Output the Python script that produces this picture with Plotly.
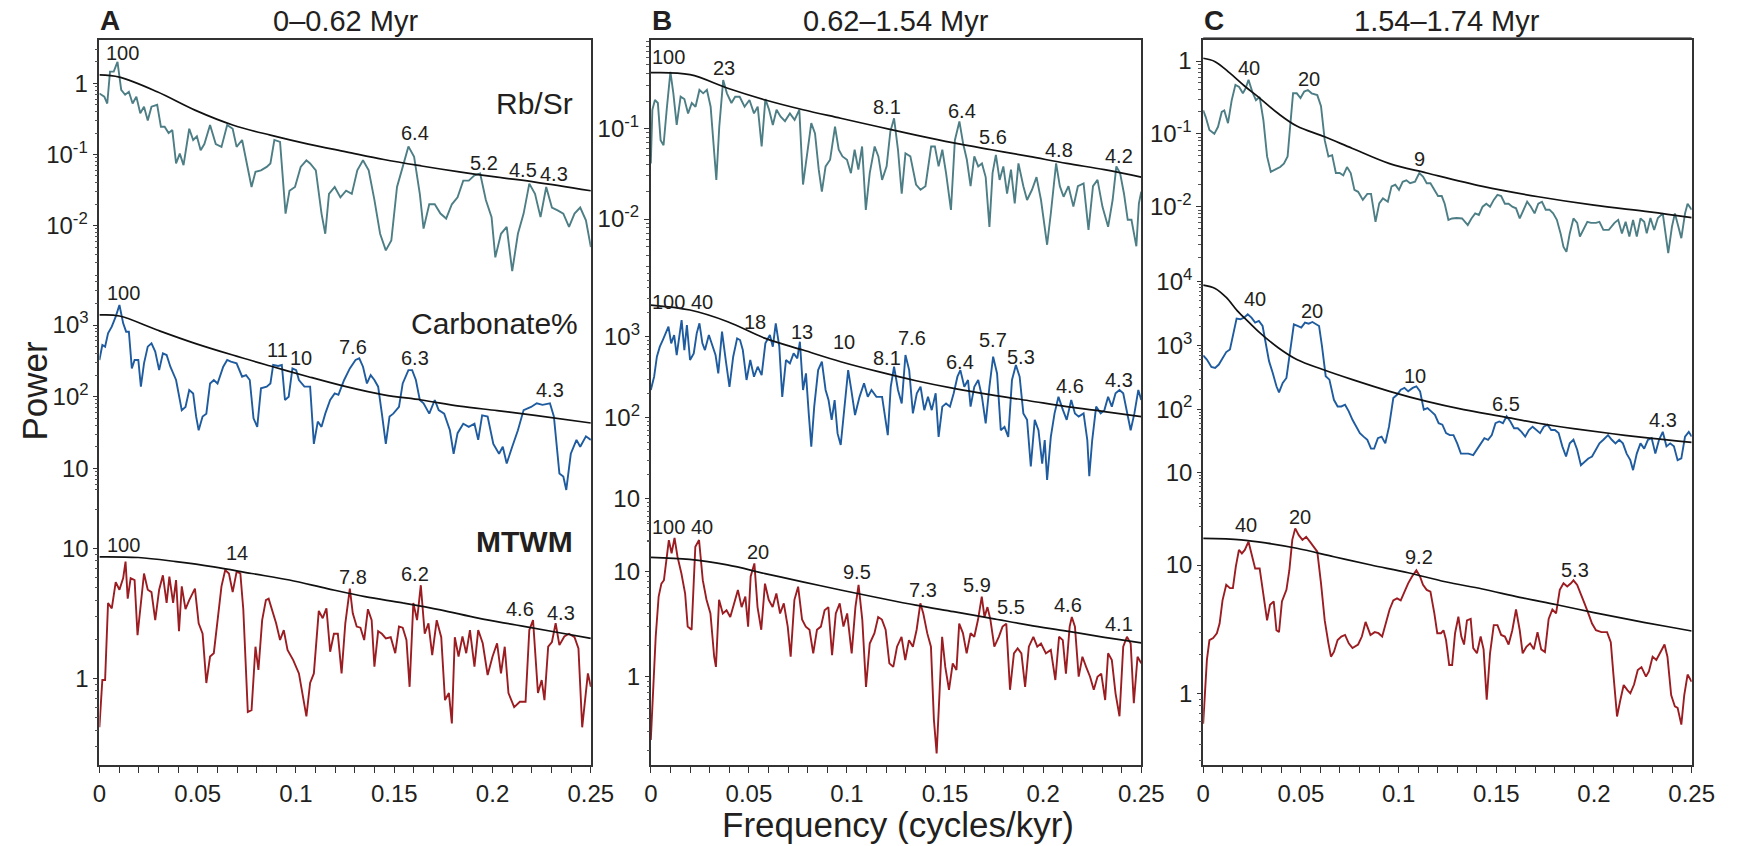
import math
import plotly.graph_objects as go

# ---------------- DATA (frequency in cycles/kyr, power) ----------------
# Panel A: 0-0.62 Myr
RBSR_A_F = [0, .0025, .004, .0054, .0073, .0092, .0111, .0131, .015, .0169, .0188, .0208, .0227, .0246, .0265, .0294, .0313, .0332, .0352, .0371,
            .039, .0409, .0428, .0457, .0477, .0496, .0515, .0534, .0563, .0592, .0621, .065, .0678, .0698, .0726, .0755, .0774, .0794, .0822, .0851,
            .087, .089, .0919, .0947, .0967, .0995, .1024, .1053, .1072, .1101, .113, .1149, .1168, .1197, .1226, .1255, .1284, .1312, .1341, .137,
            .1399, .1428, .1457, .1485, .1514, .1543, .1572, .1601, .163, .1649, .1678, .1706, .1735, .1764, .1793, .1822, .1851, .1879, .1908, .1937,
            .1966, .1995, .2014, .2043, .2072, .21, .2129, .2158, .2187, .2216, .2244, .2273, .2302, .2331, .236, .2389, .2417, .2446, .2475, .25]
RBSR_A_P = [0.72, 0.65, 0.52, 1.46, 1.46, 2.0, 0.81, 0.69, 0.76, 0.52, 0.65, 0.38, 0.47, 0.30, 0.47, 0.50, 0.245, 0.245, 0.20, 0.22,
            0.075, 0.103, 0.071, 0.23, 0.16, 0.18, 0.115, 0.14, 0.26, 0.14, 0.128, 0.26, 0.23, 0.128, 0.16, 0.060, 0.035, 0.057, 0.060, 0.067,
            0.075, 0.16, 0.15, 0.0148, 0.031, 0.035, 0.067, 0.083, 0.075, 0.060, 0.0148, 0.0077, 0.028, 0.035, 0.025, 0.031, 0.028, 0.060, 0.083, 0.060,
            0.023, 0.0077, 0.0045, 0.0062, 0.035, 0.067, 0.13, 0.093, 0.028, 0.0091, 0.020, 0.020, 0.0148, 0.0126, 0.020, 0.025, 0.043, 0.043, 0.051, 0.054,
            0.023, 0.0132, 0.0036, 0.0077, 0.0096, 0.0023, 0.0077, 0.0148, 0.039, 0.028, 0.0132, 0.035, 0.018, 0.0164, 0.0148, 0.0096, 0.0148, 0.018, 0.0119, 0.005]
RBSR_A_RN_F = [0, .0102, .0294, .0486, .0678, .087, .1063, .1255, .1447, .1639, .1831, .2024, .2216, .25]
RBSR_A_RN_P = [1.31, 1.22, 0.76, 0.42, 0.26, 0.187, 0.14, 0.109, 0.085, 0.069, 0.057, 0.048, 0.041, 0.031]

CARB_A_F = [0, .0015, .0029, .0044, .0063, .0083, .0102, .0121, .0136, .015, .0165, .0179, .0198, .0211, .0227, .0246, .0265, .0284, .0304, .0323,
            .0342, .0361, .039, .0419, .0438, .0457, .0477, .0492, .0505, .0525, .0544, .0563, .0582, .0601, .063, .065, .0669, .0698, .0726, .0746,
            .0765, .0784, .0803, .0822, .0851, .087, .0884, .0909, .0928, .0944, .0963, .0982, .1001, .1015, .1043, .1072, .1091, .1111, .113, .1149,
            .1174, .1197, .1216, .1245, .1274, .1303, .1322, .1341, .1361, .138, .1399, .1418, .1437, .1457, .1476, .1495, .1524, .1543, .1572, .1591,
            .161, .163, .1649, .1678, .1706, .1726, .1754, .1783, .1802, .1822, .1851, .1879, .1908, .1927, .1947, .1975, .2004, .2033, .2052, .2072,
            .21, .2129, .2158, .2196, .2225, .2254, .2292, .2312, .234, .236, .2375, .2398, .2427, .2446, .2475, .25]
CARB_A_P = [325, 526, 499, 766, 948, 1307, 1900, 1055, 807, 807, 248, 325, 325, 138, 292, 499, 555, 425, 235, 403,
            381, 262, 171, 65, 72, 124, 111, 53, 34, 53, 58, 153, 171, 153, 262, 325, 308, 292, 190, 200,
            171, 50, 38, 131, 138, 153, 277, 268, 277, 90, 100, 248, 235, 171, 138, 138, 22, 45, 38, 58,
            90, 111, 106, 171, 248, 325, 343, 262, 153, 200, 171, 138, 58, 22, 53, 58, 72, 153, 235, 235,
            171, 90, 81, 58, 90, 65, 58, 34, 16, 31, 42, 38, 42, 25, 55, 53, 22, 16, 20, 11.7,
            20, 34, 65, 72, 81, 77, 81, 53, 8.5, 7.7, 5.0, 16, 25, 20, 28, 25]
CARB_A_RN_F = [0, .0102, .0294, .0486, .0678, .087, .1063, .1255, .1447, .1639, .1831, .2024, .2216, .25]
CARB_A_RN_P = [1380, 1335, 851, 555, 381, 268, 190, 138, 106, 90, 74, 64, 55, 43]

MTWM_A_F = [0, .0015, .0029, .0044, .0063, .0083, .0102, .0121, .0133, .0144, .0159, .0179, .0194, .0208, .0227, .0246, .0265, .0284, .0304, .0323,
            .0342, .0356, .0375, .039, .0405, .0419, .0438, .0457, .0486, .0505, .0525, .0544, .0563, .0582, .0601, .0621, .064, .0659, .0678, .0698,
            .0717, .0732, .0755, .0774, .0794, .0809, .0828, .0847, .0861, .088, .0899, .0919, .0938, .0957, .0986, .1015, .1034, .1053, .1072, .1091,
            .1116, .1136, .1155, .1174, .1193, .1213, .1232, .1251, .1274, .1289, .1309, .1328, .1347, .1366, .1385, .1399, .1418, .1437, .1457, .1482,
            .1505, .1524, .1543, .1562, .1578, .1597, .1616, .1635, .1655, .1674, .1693, .1716, .1739, .1758, .1778, .1793, .1808, .1827, .1847, .1866,
            .1885, .1908, .1927, .195, .1975, .2, .2023, .2043, .2062, .2081, .211, .2139, .2168, .2187, .2206, .2231, .225, .2264, .2283, .2302,
            .2321, .234, .2365, .2389, .2417, .2437, .2456, .2471, .2485, .25]
MTWM_A_P = [0.42, 0.97, 0.97, 3.8, 3.45, 5.5, 4.8, 5.9, 7.9, 4.1, 5.9, 5.7, 2.15, 3.4, 6.4, 4.8, 4.6, 2.8, 4.8, 6.2,
            3.8, 6.05, 3.8, 5.7, 2.3, 5.1, 3.4, 4.0, 4.9, 2.65, 2.2, 0.92, 1.47, 1.56, 2.65, 5.1, 6.8, 6.4, 4.6, 6.6,
            6.4, 3.4, 0.55, 0.57, 1.75, 1.16, 2.8, 4.0, 4.1, 3.3, 2.65, 1.97, 2.35, 1.65, 1.38, 1.09, 0.72, 0.51, 0.92, 1.09,
            3.3, 2.9, 3.45, 1.6, 2.2, 2.2, 1.09, 2.65, 4.9, 3.16, 2.5, 2.45, 1.97, 3.4, 2.8, 1.23, 2.3, 2.2, 2.03, 2.07,
            1.56, 2.5, 2.45, 1.97, 0.86, 3.8, 2.8, 5.2, 2.2, 2.65, 1.51, 2.8, 2.07, 0.68, 0.77, 0.45, 2.07, 1.47, 2.1, 1.56,
            2.35, 1.23, 2.35, 1.86, 1.06, 1.47, 1.86, 1.09, 1.75, 0.77, 0.6, 0.66, 0.66, 2.35, 2.8, 0.77, 0.97, 0.68, 1.75, 1.9,
            2.65, 1.8, 2.1, 2.2, 2.07, 1.7, 0.42, 0.68, 1.09, 0.86]
MTWM_A_RN_F = [0, .0198, .039, .0582, .0774, .0967, .1159, .1351, .1543, .1735, .1927, .212, .2312, .25]
MTWM_A_RN_P = [8.6, 8.5, 7.9, 7.2, 6.4, 5.7, 4.9, 4.25, 3.8, 3.36, 2.9, 2.57, 2.28, 2.03]

# Panel B: 0.62-1.54 Myr
RBSR_B_F = [0, .0008, .0021, .0036, .005, .0065, .0081, .01, .0115, .0132, .0152, .0171, .019, .0209, .0228, .0248, .0267, .0286, .0305, .0319,
            .0334, .0349, .0369, .0388, .0411, .043, .0453, .0478, .0503, .0526, .0545, .0565, .0584, .0603, .0622, .0641, .0661, .0684, .0709, .0733,
            .0757, .0776, .0795, .0818, .0837, .0856, .0872, .0891, .0914, .0939, .0958, .0977, .1, .102, .1039, .1058, .1077, .1096, .1116, .1141,
            .116, .1179, .1202, .1221, .124, .126, .1279, .1298, .1323, .1352, .1375, .14, .1429, .1448, .1467, .1486, .1505, .153, .155, .1573,
            .1592, .1611, .163, .1649, .1669, .1688, .1707, .1726, .1742, .1759, .1778, .1797, .1816, .1836, .1855, .1874, .1899, .1918, .1943, .1966,
            .1989, .202, .2039, .2066, .2085, .2104, .2129, .2154, .2177, .2206, .2231, .2254, .2277, .2302, .2331, .2354, .2373, .2392, .2412, .2431,
            .245, .2475, .2488, .25]
RBSR_B_P = [0.041, 0.16, 0.205, 0.19, 0.074, 0.065, 0.16, 0.42, 0.243, 0.109, 0.223, 0.21, 0.146, 0.19, 0.173, 0.265, 0.243, 0.265, 0.173, 0.063,
            0.027, 0.104, 0.34, 0.243, 0.19, 0.223, 0.223, 0.173, 0.205, 0.146, 0.173, 0.063, 0.21, 0.16, 0.109, 0.16, 0.135, 0.12, 0.146, 0.124,
            0.16, 0.024, 0.049, 0.114, 0.088, 0.035, 0.02, 0.038, 0.045, 0.104, 0.058, 0.049, 0.045, 0.032, 0.058, 0.035, 0.063, 0.0126, 0.032, 0.063,
            0.049, 0.027, 0.038, 0.092, 0.129, 0.058, 0.019, 0.053, 0.049, 0.024, 0.021, 0.023, 0.063, 0.063, 0.038, 0.058, 0.032, 0.0126, 0.074, 0.119,
            0.068, 0.045, 0.023, 0.049, 0.038, 0.041, 0.029, 0.0082, 0.032, 0.051, 0.027, 0.038, 0.019, 0.035, 0.0149, 0.041, 0.023, 0.0162, 0.021, 0.029,
            0.0162, 0.0052, 0.0115, 0.041, 0.023, 0.0176, 0.023, 0.0137, 0.023, 0.0247, 0.0076, 0.023, 0.027, 0.0137, 0.0082, 0.0162, 0.038, 0.032, 0.019, 0.0098,
            0.0098, 0.005, 0.0149, 0.02]
RBSR_B_RN_F = [0, .02, .0392, .0584, .0776, .0968, .116, .1352, .1544, .1736, .1928, .212, .2312, .25]
RBSR_B_RN_P = [0.41, 0.39, 0.276, 0.205, 0.16, 0.129, 0.104, 0.084, 0.069, 0.058, 0.049, 0.041, 0.035, 0.029]

CARB_B_F = [0, .0017, .0031, .0046, .0061, .0077, .009, .0104, .0119, .0132, .0146, .0157, .0171, .0184, .02, .0219, .0234, .0248, .0263, .0276,
            .0296, .0315, .033, .0344, .0363, .0382, .0401, .042, .044, .0455, .0469, .0488, .0507, .0526, .0545, .0565, .0584, .0607, .0622, .0637,
            .0655, .067, .0689, .0709, .0728, .0747, .076, .0776, .0791, .0805, .0818, .0833, .0853, .0872, .0891, .0906, .0922, .0937, .0952, .0968,
            .0987, .1006, .1022, .1041, .1064, .1087, .1106, .1125, .115, .1179, .1208, .1223, .124, .126, .1279, .1298, .1317, .1336, .1356, .1375,
            .1394, .1413, .1432, .1452, .1467, .1486, .1505, .1525, .1544, .1563, .1578, .1598, .1617, .163, .1649, .1669, .1688, .1707, .1726, .1745,
            .1765, .1784, .1803, .1822, .1841, .1861, .188, .1899, .1918, .1937, .1957, .1976, .1995, .2008, .202, .2039, .2058, .2078, .2101, .212,
            .2143, .2162, .2181, .2206, .2225, .2235, .225, .227, .2293, .2312, .2331, .235, .2369, .2389, .2408, .2427, .2446, .2465, .2485, .25]
CARB_B_P = [220, 321, 566, 753, 910, 1153, 1329, 828, 1049, 594, 1000, 1606, 684, 1393, 515, 622, 1100, 1462, 828, 684,
            1049, 753, 594, 352, 1153, 515, 241, 566, 953, 910, 684, 292, 515, 321, 426, 336, 828, 1049, 753, 1462,
            753, 181, 515, 469, 622, 541, 867, 220, 352, 113, 44, 137, 387, 491, 220, 165, 94, 165, 64, 46,
            137, 387, 220, 108, 181, 266, 181, 220, 181, 181, 61, 241, 426, 220, 150, 594, 387, 113, 200, 241,
            124, 181, 124, 200, 58, 137, 150, 137, 200, 321, 387, 241, 292, 137, 241, 292, 181, 85, 241, 566,
            352, 70, 77, 58, 292, 447, 321, 113, 94, 25, 94, 70, 27, 53, 17, 58, 113, 181, 124, 94,
            165, 113, 103, 113, 53, 19, 53, 137, 113, 124, 181, 137, 200, 220, 200, 124, 70, 113, 220, 165]
CARB_B_RN_F = [0, .02, .0392, .0584, .0776, .0968, .116, .1352, .1544, .1736, .1928, .212, .2312, .25]
CARB_B_RN_P = [2460, 2134, 1531, 953, 684, 491, 370, 286, 230, 191, 162, 137, 119, 103]

MTWM_B_F = [0, .0012, .0025, .004, .0054, .0067, .0079, .0092, .0106, .0121, .0136, .0156, .0175, .0188, .0208, .0227, .0246, .0265, .0284, .0304,
            .0323, .0332, .0348, .0367, .0386, .0405, .0425, .0444, .0463, .0482, .0496, .0509, .0528, .0544, .0563, .0582, .0601, .0621, .064, .0659,
            .0678, .0698, .0713, .0732, .0751, .0771, .079, .0809, .0828, .0847, .0867, .0886, .0905, .0924, .0943, .0963, .0982, .1001, .1024, .1043,
            .1059, .1078, .1097, .1116, .114, .1159, .1178, .1197, .1216, .1236, .1255, .1278, .1297, .1316, .1336, .1355, .1374, .1389, .1409, .1428,
            .1443, .1457, .147, .1485, .1501, .152, .1539, .1558, .1572, .1591, .161, .163, .1649, .1668, .1687, .1701, .1716, .1731, .1751, .1774,
            .1793, .1812, .1831, .1851, .187, .1889, .1908, .1927, .195, .197, .1989, .2014, .2039, .2062, .2081, .21, .2116, .2135, .2146, .2162,
            .2181, .22, .2219, .2239, .2258, .2277, .2296, .2316, .2331, .235, .2369, .2389, .2408, .2427, .2446, .2462, .2481, .25]
MTWM_B_P = [0.25, 0.8, 2.4, 5.8, 7.7, 8.3, 12, 20, 15, 21, 13.9, 9.6, 6.2, 3.0, 2.8, 17.3, 20, 8.3, 5.4, 4.0,
            1.55, 1.24, 5.4, 4.0, 4.3, 3.7, 5.0, 6.7, 4.6, 5.8, 3.0, 9.0, 12, 4.6, 2.8, 7.7, 5.4, 4.6, 6.2, 4.0,
            5.0, 3.0, 1.55, 5.4, 7.2, 3.5, 3.0, 2.8, 1.67, 2.8, 3.0, 4.3, 4.6, 1.6, 4.0, 5.0, 3.0, 4.0, 1.67, 4.6,
            7.5, 3.5, 0.8, 2.07, 2.6, 3.7, 3.5, 2.8, 1.34, 1.24, 1.93, 2.4, 1.44, 2.23, 1.93, 2.8, 5.0, 4.0, 2.6, 1.93,
            0.39, 0.186, 0.6, 2.4, 1.24, 0.75, 1.34, 1.16, 3.2, 2.6, 1.67, 2.6, 2.4, 3.5, 5.8, 3.7, 4.6, 3.5, 1.93, 2.4,
            3.0, 3.2, 0.75, 1.67, 1.86, 1.67, 0.8, 1.93, 2.4, 1.93, 2.07, 1.67, 1.8, 0.93, 2.4, 2.23, 1.07, 3.0, 3.7, 3.0,
            1.0, 1.55, 1.24, 1.0, 0.75, 1.0, 1.07, 0.6, 1.67, 1.44, 0.69, 0.42, 1.93, 2.4, 2.07, 0.56, 1.55, 1.34]
MTWM_B_RN_F = [0, .0198, .039, .0582, .0774, .0967, .1159, .1351, .1543, .1735, .1927, .212, .2312, .25]
MTWM_B_RN_P = [13.7, 13.1, 11.6, 9.6, 8.0, 6.7, 5.65, 4.8, 4.16, 3.6, 3.1, 2.72, 2.37, 2.1]

# Panel C: 1.54-1.74 Myr
RBSR_C_F = [0, .0013, .0032, .0057, .0076, .0095, .0108, .0127, .0146, .0165, .0184, .0203, .0217, .0232, .0251, .027, .0289, .0308, .0327, .0346,
            .0375, .0394, .0413, .0432, .0445, .046, .0479, .0498, .0517, .0536, .0555, .0584, .0603, .0622, .0641, .066, .0679, .0698, .0717, .0736,
            .0755, .0774, .0793, .0817, .084, .0859, .0882, .0901, .092, .0945, .0964, .0983, .1002, .1021, .104, .1059, .1084, .1106, .1125, .1144,
            .1163, .1183, .1202, .1221, .1236, .1255, .1274, .1297, .1325, .1354, .1373, .1392, .1411, .143, .1449, .1468, .1487, .1506, .1525, .1544,
            .1563, .1582, .1601, .162, .1639, .1658, .1677, .1696, .1715, .1734, .1753, .1772, .1791, .181, .1829, .1844, .1859, .1876, .1895, .1914,
            .1928, .1947, .1966, .1985, .201, .2028, .2048, .2076, .2105, .2124, .2143, .2162, .2181, .22, .2219, .2238, .2257, .227, .2289, .2308,
            .2327, .2352, .2371, .238, .2399, .2414, .2432, .2447, .2466, .2479, .25]
RBSR_C_P = [0.21, 0.17, 0.113, 0.10, 0.125, 0.2, 0.21, 0.14, 0.29, 0.47, 0.44, 0.36, 0.42, 0.55, 0.38, 0.29, 0.32, 0.155, 0.049, 0.030,
            0.033, 0.035, 0.039, 0.049, 0.125, 0.36, 0.36, 0.31, 0.38, 0.40, 0.36, 0.34, 0.24, 0.082, 0.049, 0.051, 0.029, 0.029, 0.027, 0.035,
            0.029, 0.017, 0.016, 0.0124, 0.015, 0.015, 0.0062, 0.0111, 0.013, 0.0117, 0.019, 0.02, 0.017, 0.022, 0.023, 0.021, 0.022, 0.029, 0.026, 0.021,
            0.021, 0.017, 0.014, 0.014, 0.011, 0.0066, 0.0069, 0.007, 0.0069, 0.0056, 0.0069, 0.0081, 0.0077, 0.01, 0.011, 0.01, 0.0124, 0.0145, 0.014, 0.011,
            0.011, 0.01, 0.0095, 0.0069, 0.0091, 0.0117, 0.01, 0.0081, 0.011, 0.0117, 0.0091, 0.0091, 0.0081, 0.0066, 0.0043, 0.0028, 0.0024, 0.0043, 0.0069, 0.006,
            0.0039, 0.005, 0.0062, 0.006, 0.006, 0.0062, 0.0048, 0.0048, 0.006, 0.0066, 0.0043, 0.0062, 0.0039, 0.0066, 0.0039, 0.0069, 0.0062, 0.0043, 0.007, 0.0048,
            0.007, 0.0081, 0.0035, 0.0023, 0.0053, 0.0081, 0.0053, 0.0037, 0.0081, 0.011, 0.0091]
RBSR_C_RN_F = [0, .0061, .0137, .0213, .0289, .0384, .0479, .0622, .0764, .0954, .1144, .143, .1715, .2, .2285, .25]
RBSR_C_RN_P = [1.09, 0.98, 0.68, 0.45, 0.31, 0.19, 0.128, 0.091, 0.063, 0.039, 0.029, 0.019, 0.0137, 0.0105, 0.0085, 0.0071]

CARB_C_F = [0, .0019, .0042, .0061, .008, .0099, .0118, .0137, .0156, .0171, .019, .0209, .0228, .0247, .0266, .0285, .0304, .0323, .0337, .0356,
            .0375, .0388, .0407, .0426, .0445, .0464, .0483, .0502, .0521, .054, .0559, .0578, .0593, .0608, .0627, .0646, .0669, .0688, .0707, .0726,
            .0745, .0764, .0783, .0802, .0821, .084, .0859, .0875, .0894, .0913, .0932, .0951, .0973, .0992, .1011, .103, .1049, .1072, .1091, .111,
            .1129, .1148, .1167, .1186, .1205, .1224, .1243, .1262, .1281, .13, .1319, .1338, .1357, .1382, .1401, .142, .1439, .1458, .1477, .1496,
            .1515, .1534, .1553, .1572, .1591, .161, .1629, .1648, .1667, .1686, .1705, .1724, .1743, .1762, .1781, .18, .1819, .1838, .1857, .1876,
            .1895, .1914, .1933, .1952, .1971, .199, .201, .2028, .2048, .2072, .2091, .211, .2129, .2148, .2167, .2186, .22, .2219, .2238, .2257,
            .2276, .2295, .2314, .2333, .2352, .2371, .239, .2409, .2428, .2447, .2466, .2485, .25]
CARB_C_P = [695, 601, 460, 444, 501, 638, 785, 865, 1585, 2637, 2570, 2733, 3085, 2733, 2280, 2420, 2018, 1037, 566, 370,
            228, 183, 258, 308, 865, 2146, 2018, 1900, 2280, 2197, 2330, 2146, 2018, 975, 328, 290, 140, 110, 110, 117,
            92, 68, 53, 42, 37, 33, 24, 24, 35, 37, 29, 53, 149, 168, 202, 215, 190, 215, 228, 190,
            98, 104, 92, 81, 60, 57, 42, 39, 39, 29, 20, 20, 20, 19, 23, 29, 35, 33, 39, 60,
            64, 60, 77, 64, 50, 50, 44, 37, 47, 53, 47, 42, 53, 57, 47, 47, 42, 26, 18, 29,
            33, 23, 13.2, 14.9, 16.8, 18, 23, 29, 33, 39, 33, 29, 33, 29, 20, 15.8, 11, 20, 29, 24,
            33, 35, 20, 33, 44, 26, 29, 26, 15.8, 16.8, 37, 44, 37]
CARB_C_RN_F = [0, .0061, .0118, .0175, .0232, .0289, .0384, .0479, .0612, .0764, .0954, .1144, .1334, .1525, .1715, .1905, .2095, .2285, .25]
CARB_C_RN_P = [8860, 7850, 5660, 3480, 2335, 1585, 919, 601, 418, 290, 190, 132, 98, 77, 60, 49, 41, 35, 30]

MTWM_C_F = [0, .0008, .0019, .0032, .0051, .007, .0084, .0099, .0118, .0137, .0152, .0167, .0183, .0198, .0213, .0232, .0247, .0266, .0289, .0308,
            .0327, .0342, .0361, .0375, .0388, .0403, .0426, .0441, .0456, .0471, .0489, .0508, .0527, .0546, .0565, .0584, .0603, .0622, .0641, .0654,
            .0669, .0688, .0707, .0726, .0745, .0764, .0793, .0812, .0831, .0856, .0878, .0897, .0916, .0935, .0954, .0973, .0992, .1011, .103, .1049,
            .1068, .1091, .111, .1125, .1144, .1163, .1183, .1198, .1217, .123, .1243, .1259, .1274, .1289, .1306, .1321, .1335, .135, .1369, .1382,
            .1401, .142, .1435, .1451, .1468, .1487, .1506, .1525, .1544, .1563, .1582, .1601, .162, .1635, .1654, .1673, .1692, .1711, .173, .1749,
            .1768, .1787, .1806, .1825, .1844, .1863, .1882, .1895, .1914, .1933, .1952, .1971, .199, .201, .2038, .2067, .2086, .2099, .2118, .2133,
            .2152, .2171, .2186, .2205, .2224, .2243, .2266, .2281, .23, .2319, .2338, .2361, .2376, .2395, .2414, .2428, .2447, .2462, .2479, .25]
MTWM_C_P = [0.58, 1.0, 1.82, 2.6, 2.7, 2.94, 3.5, 5.3, 7.0, 6.6, 6.6, 9.7, 13.1, 12.3, 13.1, 15.2, 12.3, 9.4, 9.4, 6.0,
            3.7, 4.9, 5.2, 3.1, 3.0, 5.2, 6.4, 9.1, 15.7, 19.3, 17.1, 15.7, 16.6, 15.2, 13.9, 12.7, 7.2, 3.7, 2.45, 1.93,
            2.1, 2.6, 2.77, 2.85, 2.45, 2.25, 2.4, 2.77, 3.6, 2.85, 3.0, 2.94, 2.77, 3.6, 4.5, 5.3, 5.5, 5.3, 6.2, 7.2,
            8.1, 9.1, 8.1, 7.0, 6.4, 6.2, 4.2, 2.94, 2.94, 3.1, 2.6, 1.66, 1.66, 2.94, 3.95, 2.77, 2.4, 3.7, 3.8, 2.25,
            2.05, 2.77, 2.2, 0.89, 2.05, 3.4, 3.4, 2.85, 2.77, 2.4, 3.1, 4.5, 3.1, 2.05, 2.3, 2.45, 2.2, 3.0, 2.2, 2.1,
            3.8, 4.5, 4.2, 6.4, 7.2, 6.8, 7.2, 7.6, 7.0, 6.0, 5.0, 4.2, 3.5, 3.1, 3.0, 3.0, 2.5, 1.43, 0.66, 0.86,
            1.16, 1.06, 1.0, 1.17, 1.52, 1.6, 1.35, 1.48, 1.93, 1.82, 2.05, 2.4, 1.93, 0.97, 0.79, 0.77, 0.57, 0.97, 1.4, 1.23]
MTWM_C_RN_F = [0, .0194, .0327, .0479, .0669, .0859, .1049, .1239, .1429, .162, .181, .2, .219, .238, .25]
MTWM_C_RN_P = [16.1, 15.7, 14.8, 13.5, 11.6, 10.0, 8.7, 7.4, 6.5, 5.6, 4.9, 4.25, 3.73, 3.3, 3.06]

# Peak period labels (kyr) : (text, frequency, power)
PEAKS = {
    (0, 0): [("100", .0117, 2.65), ("6.4", .1606, .198), ("5.2", .1956, .077), ("4.5", .2154, .06), ("4.3", .2312, .054)],
    (0, 1): [("100", .0121, 2770), ("11", .0905, 448), ("10", .1028, 343), ("7.6", .129, 499), ("6.3", .1606, 343), ("4.3", .2292, 124)],
    (0, 2): [("100", .0121, 10.6), ("14", .0701, 9.2), ("7.8", .129, 6.0), ("6.2", .1606, 6.4), ("4.6", .2139, 3.4), ("4.3", .235, 3.16)],
    (1, 0): [("100", .009, .61), ("23", .0372, .46), ("8.1", .1202, .173), ("6.4", .1586, .157), ("5.6", .1745, .081), ("4.8", .2081, .058), ("4.2", .2385, .049)],
    (1, 1): [("100", .009, 2700), ("40", .0261, 2700), ("18", .053, 1530), ("13", .077, 1150), ("10", .0987, 867), ("8.1", .1202, 541),
             ("7.6", .1329, 953), ("6.4", .1578, 491), ("5.7", .1745, 910), ("5.3", .1889, 566), ("4.6", .2139, 246), ("4.3", .2385, 292)],
    (1, 2): [("100", .0088, 26.8), ("40", .0261, 26.8), ("20", .0548, 15.5), ("9.5", .1053, 10), ("7.3", .1386, 6.7), ("5.9", .1662, 7.5),
             ("5.5", .1835, 4.6), ("4.6", .2129, 4.8), ("4.1", .2389, 3.2)],
    (2, 0): [("40", .0236, .79), ("20", .0542, .57), ("9", .1106, .045)],
    (2, 1): [("40", .0266, 5320), ("20", .0555, 3480), ("10", .1084, 328), ("6.5", .1548, 121), ("4.3", .2352, 68)],
    (2, 2): [("40", .0217, 20.4), ("20", .0498, 23.5), ("9.2", .1106, 11.6), ("5.3", .1901, 9.1)],
}

SERIES = {
    (0, 0): (RBSR_A_F, RBSR_A_P, RBSR_A_RN_F, RBSR_A_RN_P),
    (0, 1): (CARB_A_F, CARB_A_P, CARB_A_RN_F, CARB_A_RN_P),
    (0, 2): (MTWM_A_F, MTWM_A_P, MTWM_A_RN_F, MTWM_A_RN_P),
    (1, 0): (RBSR_B_F, RBSR_B_P, RBSR_B_RN_F, RBSR_B_RN_P),
    (1, 1): (CARB_B_F, CARB_B_P, CARB_B_RN_F, CARB_B_RN_P),
    (1, 2): (MTWM_B_F, MTWM_B_P, MTWM_B_RN_F, MTWM_B_RN_P),
    (2, 0): (RBSR_C_F, RBSR_C_P, RBSR_C_RN_F, RBSR_C_RN_P),
    (2, 1): (CARB_C_F, CARB_C_P, CARB_C_RN_F, CARB_C_RN_P),
    (2, 2): (MTWM_C_F, MTWM_C_P, MTWM_C_RN_F, MTWM_C_RN_P),
}

PANEL_TITLES = ["0\u20130.62 Myr", "0.62\u20131.54 Myr", "1.54\u20131.74 Myr"]
PANEL_LETTERS = ["A", "B", "C"]
X_TICKS = [0, 0.05, 0.1, 0.15, 0.2, 0.25]
X_TICKTEXT = ["0", "0.05", "0.1", "0.15", "0.2", "0.25"]

# ---------------- LAYOUT / STYLE ----------------
W, H = 1754, 846
TOP, BOT = 40, 765
PANELS_PX = [(94, 594), (655, 1154), (1217, 1714)]
COLORS = ["#4d7e85", "#1f5c9f", "#9b1d22"]
FONT = "Liberation Sans, Arial, sans-serif"
AX = "#333333"
TXT = "#231f20"

SUP = {"-2": "10<sup>-2</sup>", "-1": "10<sup>-1</sup>", "0": "1", "1": "10", "2": "10<sup>2</sup>", "3": "10<sup>3</sup>", "4": "10<sup>4</sup>"}
# per (column,row): (reference decade exponent, its pixel row, pixels per decade, major exponents, minor range)
CAL = {
    (0, 0): (0, 83.3, 71.2, [0, -1, -2], (0.002, 3)),
    (0, 1): (3, 325.0, 71.7, [3, 2, 1], (5, 4000)),
    (0, 2): (1, 548.3, 130.0, [1, 0], (0.2, 20)),
    (1, 0): (-1, 128.3, 90.7, [-1, -2], (0.003, 0.9)),
    (1, 1): (3, 336.7, 81.0, [3, 2, 1], (3, 6000)),
    (1, 2): (1, 571.7, 105.0, [1, 0], (0.2, 30)),
    (2, 0): (0, 61.0, 72.85, [0, -1, -2], (0.002, 1.5)),
    (2, 1): (4, 281.7, 63.7, [4, 3, 2, 1], (3, 10000)),
    (2, 2): (1, 565.0, 128.3, [1, 0], (0.3, 30)),
}


def minor_vals(lo, hi):
    out = []
    for e in range(-4, 6):
        for d in range(2, 10):
            v = d * 10 ** e
            if lo <= v <= hi:
                out.append(v)
    return out


fig = go.Figure()
layout = dict(width=W, height=H, autosize=False, margin=dict(l=0, r=0, t=0, b=0, pad=0),
              paper_bgcolor="white", plot_bgcolor="white", showlegend=False,
              font=dict(family=FONT, color=TXT))
annotations = []
shapes = []

for c, (x0, x1) in enumerate(PANELS_PX):
    xname = "xaxis" if c == 0 else f"xaxis{c + 1}"
    xref = "x" if c == 0 else f"x{c + 1}"
    base_yi = 3 * c + 1
    base_yref = "y" if base_yi == 1 else f"y{base_yi}"
    layout[xname] = dict(domain=[x0 / W, x1 / W], anchor=base_yref, range=[0, 0.25],
                         tickmode="array", tickvals=X_TICKS, ticktext=X_TICKTEXT,
                         ticks="outside", ticklen=6, tickwidth=1.3, tickcolor=AX,
                         minor=dict(tickmode="array", tickvals=[i / 100 for i in range(26)],
                                    ticks="outside", ticklen=6, tickwidth=1.1, tickcolor=AX),
                         showline=True, mirror=True, linecolor=AX, linewidth=1.6,
                         showgrid=False, zeroline=False, tickfont=dict(size=24, family=FONT, color=TXT))
    for r in range(3):
        yi = 3 * c + r + 1
        yname = "yaxis" if yi == 1 else f"yaxis{yi}"
        yref = "y" if yi == 1 else f"y{yi}"
        ref_e, ref_px, dec, majors, (mlo, mhi) = CAL[(c, r)]
        hi = ref_e + (ref_px - TOP) / dec
        lo = ref_e - (BOT - ref_px) / dec
        ydef = dict(domain=[1 - BOT / H, 1 - TOP / H], anchor=xref, type="log", range=[lo, hi],
                    tickmode="array", tickvals=[10 ** e for e in majors], ticktext=[SUP[str(e)] for e in majors],
                    ticks="outside", ticklen=5, tickwidth=1.2, tickcolor=AX,
                    minor=dict(tickmode="array", tickvals=minor_vals(mlo, mhi), ticks="outside",
                               ticklen=3, tickwidth=0.9, tickcolor="#555"),
                    showgrid=False, zeroline=False, side="left",
                    tickfont=dict(size=24, family=FONT, color=TXT))
        if r == 0:
            ydef.update(showline=True, mirror=True, linecolor=AX, linewidth=1.6)
        else:
            ydef.update(showline=False, overlaying=base_yref)
        layout[yname] = ydef

        f, p, rnf, rnp = SERIES[(c, r)]
        pts = list(zip(f, p))
        fig.add_trace(go.Scatter(x=[a for a, _ in pts], y=[b for _, b in pts], xaxis=xref, yaxis=yref,
                                 mode="lines", line=dict(color=COLORS[r], width=1.9), hoverinfo="skip"))
        rn = list(zip(rnf, rnp))
        fig.add_trace(go.Scatter(x=[a for a, _ in rn], y=[b for _, b in rn], xaxis=xref, yaxis=yref,
                                 mode="lines", line=dict(color="#111111", width=1.7, shape="spline", smoothing=1.0),
                                 hoverinfo="skip"))
        for text, fx, pv in PEAKS[(c, r)]:
            annotations.append(dict(text=text, x=fx, y=math.log10(pv), xref=xref, yref=yref,
                                    showarrow=False, xanchor="center", yanchor="middle",
                                    font=dict(size=20, family=FONT, color=TXT)))

    # panel letter and title
    annotations.append(dict(text=f"<b>{PANEL_LETTERS[c]}</b>", x=(x0 - 1) / W, y=1 - 21 / H, xref="paper", yref="paper",
                            showarrow=False, xanchor="left", yanchor="middle", font=dict(size=28, family=FONT, color=TXT)))
    annotations.append(dict(text=PANEL_TITLES[c], x=(x0 + x1) / 2 / W, y=1 - 21 / H, xref="paper", yref="paper",
                            showarrow=False, xanchor="center", yanchor="middle", font=dict(size=29, family=FONT, color=TXT)))

# panel C has a doubled top border
shapes.append(dict(type="line", xref="paper", yref="paper", x0=PANELS_PX[2][0] / W, x1=PANELS_PX[2][1] / W,
                   y0=1 - 37.5 / H, y1=1 - 37.5 / H, line=dict(color="#8a8a8a", width=1.2)))

# series names (panel A)
annotations.append(dict(text="Rb/Sr", x=0.2417, y=math.log10(0.52), xref="x", yref="y", showarrow=False,
                        xanchor="right", yanchor="middle", font=dict(size=30, family=FONT, color=TXT)))
annotations.append(dict(text="Carbonate%", x=0.2446, y=math.log10(1055), xref="x", yref="y2", showarrow=False,
                        xanchor="right", yanchor="middle", font=dict(size=30, family=FONT, color=TXT)))
annotations.append(dict(text="<b>MTWM</b>", x=0.2417, y=math.log10(11.3), xref="x", yref="y3", showarrow=False,
                        xanchor="right", yanchor="middle", font=dict(size=30, family=FONT, color=TXT)))

# axis titles
annotations.append(dict(text="Power", x=28 / W, y=1 - 391 / H, xref="paper", yref="paper", showarrow=False,
                        textangle=-90, xanchor="center", yanchor="middle", font=dict(size=35, family=FONT, color=TXT)))
annotations.append(dict(text="Frequency (cycles/kyr)", x=906 / W, y=0.0, xref="paper", yref="paper",
                        showarrow=False, xanchor="center", yanchor="bottom", font=dict(size=35, family=FONT, color=TXT)))

layout["annotations"] = annotations
layout["shapes"] = shapes
fig.update_layout(**layout)
fig.write_html("out.html", config={"displayModeBar": False},
               post_script="document.body.style.margin='0';document.body.style.overflow='hidden';")
